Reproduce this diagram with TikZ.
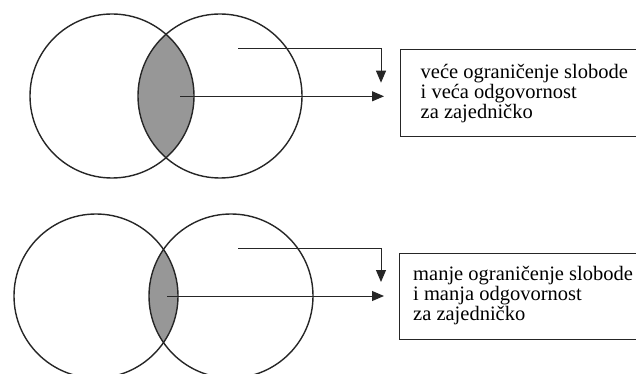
\documentclass[tikz,border=0pt]{standalone}
\usepackage{fontspec}
\setmainfont{Liberation Serif}
\usetikzlibrary{arrows.meta}
\definecolor{ink}{HTML}{262626}
\definecolor{lens}{HTML}{979797}
\tikzset{
  circ/.style={draw=ink, line width=1.4pt},
  conn/.style={draw=ink, line width=1pt},
  arr/.style={conn, -{Triangle[length=12pt,width=10pt]}},
  lbox/.style={draw=ink, line width=1.3pt},
  txt/.style={anchor=base west, inner sep=0pt, font=\fontsize{20.5}{20.5}\selectfont},
}
\begin{document}
\begin{tikzpicture}[x=1pt,y=-1pt]
\useasboundingbox (0,0) rectangle (636,374);
\fill[white] (0,0) rectangle (636,374);
% ---------- top diagram ----------
\coordinate (A1) at (112,96);
\coordinate (B1) at (220,96);
\begin{scope}
  \clip (A1) circle[radius=82pt];
  \fill[lens] (B1) circle[radius=82pt];
\end{scope}
\draw[circ] (A1) circle[radius=82pt];
\draw[circ] (B1) circle[radius=82pt];
\node[lbox, anchor=north west, minimum width=260pt, minimum height=87pt, inner sep=0pt] (box1) at (400,49) {};
\node[txt] (t1a) at (420.5,79) {veće ograničenje slobode};
\node[txt] (t1b) at (420.5,99) {i veća odgovornost};
\node[txt] (t1c) at (420.5,119) {za zajedničko};
\coordinate (s1) at (238,48.7);
\coordinate (e1) at (381,82.7);
\coordinate (m1) at (180,96.3);
\coordinate (f1) at (384,96.3);
\draw[arr] (s1) -| (e1);
\draw[arr] (m1) -- (f1);
% ---------- bottom diagram ----------
\coordinate (A2) at (96,296);
\coordinate (B2) at (231,296);
\begin{scope}
  \clip (A2) circle[radius=82pt];
  \fill[lens] (B2) circle[radius=82pt];
\end{scope}
\draw[circ] (A2) circle[radius=82pt];
\draw[circ] (B2) circle[radius=82pt];
\node[lbox, anchor=north west, minimum width=260pt, minimum height=86pt, inner sep=0pt] (box2) at (399,253) {};
\node[txt] (t2a) at (413,280) {manje ograničenje slobode};
\node[txt] (t2b) at (413,300.3) {i manja odgovornost};
\node[txt] (t2c) at (413,320.6) {za zajedničko};
\coordinate (s2) at (238,248.7);
\coordinate (e2) at (381,282);
\coordinate (m2) at (167,296);
\coordinate (f2) at (384,296);
\draw[arr] (s2) -| (e2);
\draw[arr] (m2) -- (f2);
\end{tikzpicture}
\end{document}
